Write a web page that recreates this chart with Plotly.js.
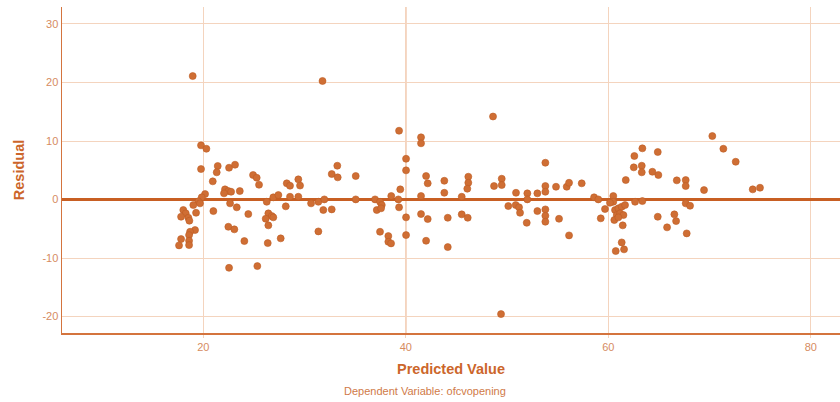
<!DOCTYPE html>
<html>
<head>
<meta charset="utf-8">
<script src="https://cdn.plot.ly/plotly-3.0.1.min.js"></script>
<style>
  html, body { margin: 0; padding: 0; background: #ffffff; }
  #chart { width: 840px; height: 402px; }
</style>
</head>
<body>
<div id="chart"></div>
<script>
// Predicted values (x) and residuals (y)
const predicted = [
  18.95, 19.77, 20.3, 19.77, 21.42, 21.32, 22.54, 23.13, 24.91,
  25.27, 25.5, 20.93, 28.24, 28.56, 29.38, 22.14, 22.47, 22.04, 22.74,
  23.6, 20.17, 19.84, 19.51, 19.01, 19.67, 22.64, 23.3, 20.99, 24.44,
  19.28, 18.02, 18.26, 17.8, 18.52, 18.62, 26.26, 26.91, 27.41, 28.14,
  28.56, 29.38, 26.42, 26.76, 26.91, 26.16, 26.42, 22.47, 23.06, 19.18,
  18.69, 18.59, 17.8, 17.6, 18.59, 18.59, 24.05, 26.36, 27.64, 22.54,
  25.33,
  31.77, 39.33, 41.5, 41.5, 40.02, 40.02, 29.55, 33.23, 32.68, 33.27,
  35.05, 42.0, 42.16, 39.45, 38.56, 30.64, 31.36, 31.95, 31.85, 32.68,
  35.05, 36.96, 37.45, 37.62, 37.13, 37.55, 39.26, 39.33, 41.5, 40.02,
  41.5, 42.16, 31.36, 37.45, 38.27, 38.27, 38.54, 40.02, 42.0,
  43.8, 43.8, 46.17, 46.17, 46.07, 45.52, 44.14, 45.52, 46.11, 44.14,
  48.61, 48.71, 49.47, 49.47, 50.12, 50.85, 51.18, 51.28, 50.88, 52.0,
  52.0, 52.99, 53.78, 53.78, 53.78, 54.83, 52.99, 53.78, 53.78, 53.78,
  51.94, 55.13, 49.4,
  55.89, 56.12, 57.37, 58.59, 59.01, 56.12, 59.25, 59.67, 60.49, 60.49,
  60.16, 61.72, 60.66, 60.99, 61.32, 61.65, 60.83, 61.16, 61.49, 60.59,
  60.99, 61.42, 61.32, 60.73, 61.55, 62.57, 63.36, 62.51, 63.3, 63.3,
  64.88, 64.35, 64.94, 62.64, 63.36, 64.88, 65.8, 66.52, 66.69, 66.76,
  67.64, 67.64, 67.64, 67.74,
  70.27, 71.36, 72.58, 69.45, 74.26, 74.98, 68.07
];
const residual = [
  21.1, 9.26, 8.68, 5.21, 5.73, 4.65, 5.44, 5.95, 4.19,
  3.73, 2.53, 3.11, 2.77, 2.36, 3.45, 1.74, 1.45, 1.06, 1.33,
  1.45, 0.94, 0.38, -0.31, -0.94, -0.65, -0.65, -1.33, -1.97, -2.48,
  -2.26, -1.79, -2.36, -2.94, -3.11, -3.62, -0.38, 0.38, 0.77, -1.16,
  0.48, 0.48, -2.36, -2.82, -3.04, -3.28, -4.41, -4.65, -5.09, -5.21,
  -5.5, -6.07, -6.75, -7.83, -7.04, -7.78, -7.09, -7.44, -6.63, -11.66,
  -11.37,
  20.26, 11.76, 10.63, 9.61, 6.97, 4.99, 2.39, 5.78, 4.36, 3.79,
  4.02, 4.02, 2.77, 1.74, 0.6, -0.65, -0.38, 0.03, -1.79, -1.68,
  0.03, 0.03, -0.38, -0.94, -1.79, -1.5, 0.03, -1.33, 0.6, -3.04,
  -2.48, -3.33, -5.44, -5.5, -6.24, -7.21, -7.49, -6.07, -7.04,
  3.21, 1.16, 3.9, 2.87, 1.85, 0.48, -3.11, -2.53, -3.11, -8.12,
  14.19, 2.31, 3.56, 2.48, -1.11, -0.94, -1.33, -2.26, 1.16, 1.06,
  0.03, 1.06, 6.29, 2.31, 1.33, 2.19, -1.97, -1.68, -2.77, -3.79,
  -3.97, -3.28, -19.57,
  2.19, 2.87, 2.77, 0.38, 0.03, -6.12, -3.21, -1.62, 0.6, -0.38,
  -0.55, 3.33, -1.79, -1.5, -1.23, -0.94, -2.65, -2.36, -2.65, -3.5,
  -3.04, -4.41, -7.32, -8.8, -8.51, 7.44, 8.75, 5.5, 5.78, 4.65,
  8.12, 4.75, 4.19, -0.38, -0.26, -2.94, -4.75, -2.53, -3.68, 3.28,
  3.33, 2.31, -0.65, -5.78,
  10.85, 8.68, 6.46, 1.62, 1.74, 2.02, -1.06
];
const xTicks = [20, 40, 60, 80];
const yTicks = [-20, -10, 0, 10, 20, 30];
const xTitle = "Predicted Value";
const yTitle = "Residual";
const footnote = "Dependent Variable: ofcvopening";

const FONT = "Arial, 'Liberation Sans', sans-serif";
const ORANGE = "rgb(204,102,43)";
const TICK_TXT = "rgb(214,140,95)";
const GRID = "rgb(244,212,190)";

const trace = {
  type: "scatter",
  mode: "markers",
  x: predicted,
  y: residual,
  marker: {
    size: 7,
    color: "rgb(207,110,52)",
    line: { width: 0.6, color: "rgb(190,92,35)" }
  },
  hoverinfo: "x+y",
  showlegend: false
};

const layout = {
  width: 840,
  height: 402,
  margin: { l: 62, r: 0, t: 7, b: 69 },
  paper_bgcolor: "#ffffff",
  plot_bgcolor: "#ffffff",
  font: { family: FONT, color: TICK_TXT, size: 11 },
  xaxis: {
    range: [6.04, 82.88],
    tickmode: "array",
    tickvals: xTicks,
    ticktext: xTicks.map(String),
    ticks: "outside",
    ticklen: 3,
    tickcolor: GRID,
    tickfont: { family: FONT, size: 11, color: TICK_TXT },
    showgrid: true,
    gridcolor: GRID,
    gridwidth: 1,
    zeroline: false,
    showline: true,
    linecolor: "rgb(212,116,62)",
    linewidth: 1.5,
    title: { text: xTitle, font: { family: FONT, size: 14.5, color: ORANGE, weight: "bold" }, standoff: 12 }
  },
  yaxis: {
    range: [-22.8, 32.9],
    tickmode: "array",
    tickvals: yTicks,
    ticktext: yTicks.map(String),
    ticks: "",
    tickfont: { family: FONT, size: 11, color: TICK_TXT },
    showgrid: true,
    gridcolor: GRID,
    gridwidth: 1,
    zeroline: true,
    zerolinecolor: "rgb(200,95,35)",
    zerolinewidth: 2.5,
    showline: true,
    linecolor: "rgb(212,116,62)",
    linewidth: 1.5,
    title: { text: yTitle, font: { family: FONT, size: 14.5, color: ORANGE, weight: "bold" }, standoff: 14 }
  },
  shapes: [
    { type: "line", xref: "x", yref: "paper", x0: 40, x1: 40, y0: 0, y1: 1,
      line: { color: "rgb(232,168,128)", width: 1.2 }, layer: "below" }
  ],
  annotations: [
    { text: footnote, xref: "paper", yref: "paper", x: 0.466, y: -0.178,
      xanchor: "center", yanchor: "middle", showarrow: false,
      font: { family: FONT, size: 11, color: "rgb(208,122,72)" } }
  ]
};

Plotly.newPlot("chart", [trace], layout, { displayModeBar: false, staticPlot: true });
</script>
</body>
</html>
